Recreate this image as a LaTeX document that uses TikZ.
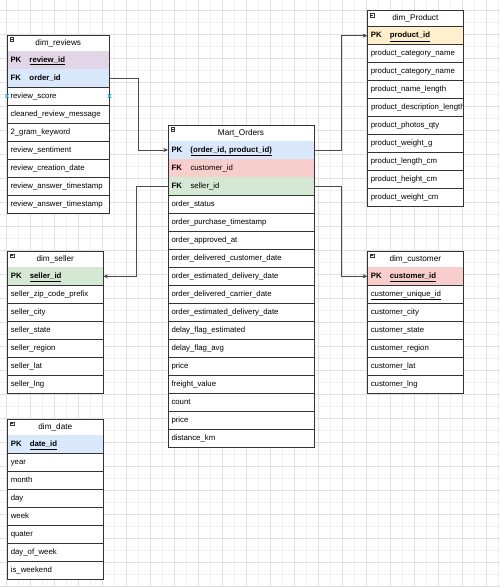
\documentclass[tikz,border=0pt]{standalone}
\usepackage{fontspec}
\setmainfont{Liberation Sans}
\usetikzlibrary{arrows.meta}
\definecolor{linec}{HTML}{333333}
\definecolor{connc}{HTML}{4A4A4A}
\definecolor{gridmin}{HTML}{F0F0F0}
\definecolor{gridmaj}{HTML}{E0E0E0}
\definecolor{kpurple}{HTML}{E1D5E7}
\definecolor{kblue}{HTML}{DAE8FC}
\definecolor{kred}{HTML}{F8CECC}
\definecolor{kgreen}{HTML}{D5E8D4}
\definecolor{kyellow}{HTML}{FFEFCC}
\definecolor{xmarkc}{HTML}{29B6F2}
\newcommand{\keytxt}[2]{\makebox[19pt][l]{\textbf{#1}}#2}
\newcommand{\hicon}[1]{%
  \draw[iconst] ([shift={(3,2.5)}]#1.north west) rectangle ++(3.5,3.5);
  \draw[iconst] ([shift={(3.7,4.25)}]#1.north west) -- ++(2.1,0);}
\begin{document}
\begin{tikzpicture}[x=1pt,y=-1pt,
  tbl/.style={font=\fontsize{7.8}{9}\selectfont, inner xsep=3.5pt, inner ysep=0pt,
    minimum height=18pt, anchor=north west, text height=5.8pt, text depth=1.6pt,
    align=left, minimum width=#1, text width=#1-7pt, outer sep=0pt},
  row/.style={tbl=#1, draw=linec, fill=white, line width=0.7pt},
  keyrow/.style 2 args={tbl=#1, fill=#2},
  hdr/.style={tbl=#1, font=\fontsize{8.2}{10}\selectfont, align=center,
    minimum height=16pt, fill=white, draw=linec, line width=0.7pt},
  frame/.style={draw=linec, line width=0.8pt},
  iconst/.style={draw=linec, line width=0.4pt},
  conn/.style={draw=connc, line width=0.7pt, -{Stealth[length=4.5pt,width=4pt,inset=1.2pt]}},
  xm/.style={draw=xmarkc, line width=0.8pt}
]
\useasboundingbox (0,0) rectangle (500,587);
\fill[white] (0,0) rectangle (500,587);
% grid
\foreach \gx in {18,42,...,498} \draw[gridmin, line width=0.5pt] (\gx,0) -- (\gx,587);
\foreach \gy in {22,46,...,586} \draw[gridmin, line width=0.5pt] (0,\gy) -- (500,\gy);
\foreach \gx in {6,30,...,498} \draw[gridmaj, line width=0.5pt] (\gx,0) -- (\gx,587);
\foreach \gy in {10,34,...,586} \draw[gridmaj, line width=0.5pt] (0,\gy) -- (500,\gy);

% ---------- dim_reviews ----------
\node[hdr=102.5pt] (rv-h) at (7,35) {dim\_reviews};
\node[keyrow={102.5pt}{kpurple}] (rv-pk) at (7,51) {\keytxt{PK}{\textbf{\underline{review\_id}}}};
\node[keyrow={102.5pt}{kblue}] (rv-fk) at (7,69) {\keytxt{FK}{\textbf{order\_id}}};
\foreach \t [count=\i] in {review\_score, cleaned\_review\_message, 2\_gram\_keyword,
  review\_sentiment, review\_creation\_date, review\_answer\_timestamp, review\_answer\_timestamp}
  \node[row=102.5pt] (rv-\i) at (7,{87+(\i-1)*18}) {\t};
\draw[frame] (rv-h.north west) rectangle (rv-7.south east);
\hicon{rv-h}
\foreach \a in {west,east}
  \draw[xm] (rv-1.\a) +(-1.8,-1.8) -- +(1.8,1.8) +(-1.8,1.8) -- +(1.8,-1.8);

% ---------- Mart_Orders ----------
\node[hdr=146pt] (mo-h) at (168,125) {Mart\_Orders};
\node[keyrow={146pt}{kblue}] (mo-pk) at (168,141) {\keytxt{PK}{\textbf{\underline{(order\_id, product\_id)}}}};
\node[keyrow={146pt}{kred}] (mo-fkc) at (168,159) {\keytxt{FK}{customer\_id}};
\node[keyrow={146pt}{kgreen}] (mo-fks) at (168,177) {\keytxt{FK}{seller\_id}};
\foreach \t [count=\i] in {order\_status, order\_purchase\_timestamp, order\_approved\_at,
  order\_delivered\_customer\_date, order\_estimated\_delivery\_date,
  order\_delivered\_carrier\_date, order\_estimated\_delivery\_date,
  delay\_flag\_estimated, delay\_flag\_avg, price, freight\_value, count, price, distance\_km}
  \node[row=146pt] (mo-\i) at (168,{195+(\i-1)*18}) {\t};
\draw[frame] (mo-h.north west) rectangle (mo-14.south east);
\hicon{mo-h}

% ---------- dim_Product ----------
\node[hdr=96pt] (pr-h) at (367.3,10.7) {dim\_Product};
\node[keyrow={96pt}{kyellow}] (pr-pk) at (367.3,26.7) {\keytxt{PK}{\textbf{\underline{product\_id}}}};
\foreach \t [count=\i] in {product\_category\_name, product\_category\_name, product\_name\_length}
  \node[row=96pt] (pr-\i) at (367.3,{44.7+(\i-1)*18}) {\t};
\node[row=96pt] (pr-4) at (367.3,98.7) {};
\begin{scope}
  \clip (pr-4.north west) rectangle ([xshift=-0.6pt]pr-4.south east);
  \node[anchor=west, font=\fontsize{7.8}{9}\selectfont, inner sep=0pt] (pr-4t)
    at ([xshift=3.5pt]pr-4.west) {product\_description\_length};
\end{scope}
\foreach \t [count=\i from 5] in {product\_photos\_qty, product\_weight\_g, product\_length\_cm,
  product\_height\_cm, product\_weight\_cm}
  \node[row=96pt] (pr-\i) at (367.3,{44.7+(\i-1)*18}) {\t};
\draw[frame] (pr-h.north west) rectangle (pr-9.south east);
\hicon{pr-h}

% ---------- dim_seller ----------
\node[hdr=96pt] (se-h) at (7.3,251.3) {dim\_seller};
\node[keyrow={96pt}{kgreen}] (se-pk) at (7.3,267.3) {\keytxt{PK}{\textbf{\underline{seller\_id}}}};
\foreach \t [count=\i] in {seller\_zip\_code\_prefix, seller\_city, seller\_state,
  seller\_region, seller\_lat, seller\_lng}
  \node[row=96pt] (se-\i) at (7.3,{285.3+(\i-1)*18}) {\t};
\draw[frame] (se-h.north west) rectangle (se-6.south east);
\hicon{se-h}

% ---------- dim_customer ----------
\node[hdr=96pt] (cu-h) at (367.3,251.3) {dim\_customer};
\node[keyrow={96pt}{kred}] (cu-pk) at (367.3,267.3) {\keytxt{PK}{\textbf{\underline{customer\_id}}}};
\foreach \t [count=\i] in {\underline{customer\_unique\_id}, customer\_city, customer\_state,
  customer\_region, customer\_lat, customer\_lng}
  \node[row=96pt] (cu-\i) at (367.3,{285.3+(\i-1)*18}) {\t};
\draw[frame] (cu-h.north west) rectangle (cu-6.south east);
\hicon{cu-h}

% ---------- dim_date ----------
\node[hdr=96pt] (dt-h) at (7.3,419.3) {dim\_date};
\node[keyrow={96pt}{kblue}] (dt-pk) at (7.3,435.3) {\keytxt{PK}{\textbf{\underline{date\_id}}}};
\foreach \t [count=\i] in {year, month, day, week, quater, day\_of\_week, is\_weekend}
  \node[row=96pt] (dt-\i) at (7.3,{453.3+(\i-1)*18}) {\t};
\draw[frame] (dt-h.north west) rectangle (dt-7.south east);
\hicon{dt-h}

% ---------- connectors ----------
\draw[conn] (rv-fk.east) -- ++(29,0) |- (mo-pk.west);
\draw[conn] (mo-pk.east) -- ++(27,0) |- (pr-pk.west);
\draw[conn] (mo-fks.west) -- ++(-31.5,0) |- (se-pk.east);
\draw[conn] (mo-fks.east) -- ++(27,0) |- (cu-pk.west);
\end{tikzpicture}
\end{document}
